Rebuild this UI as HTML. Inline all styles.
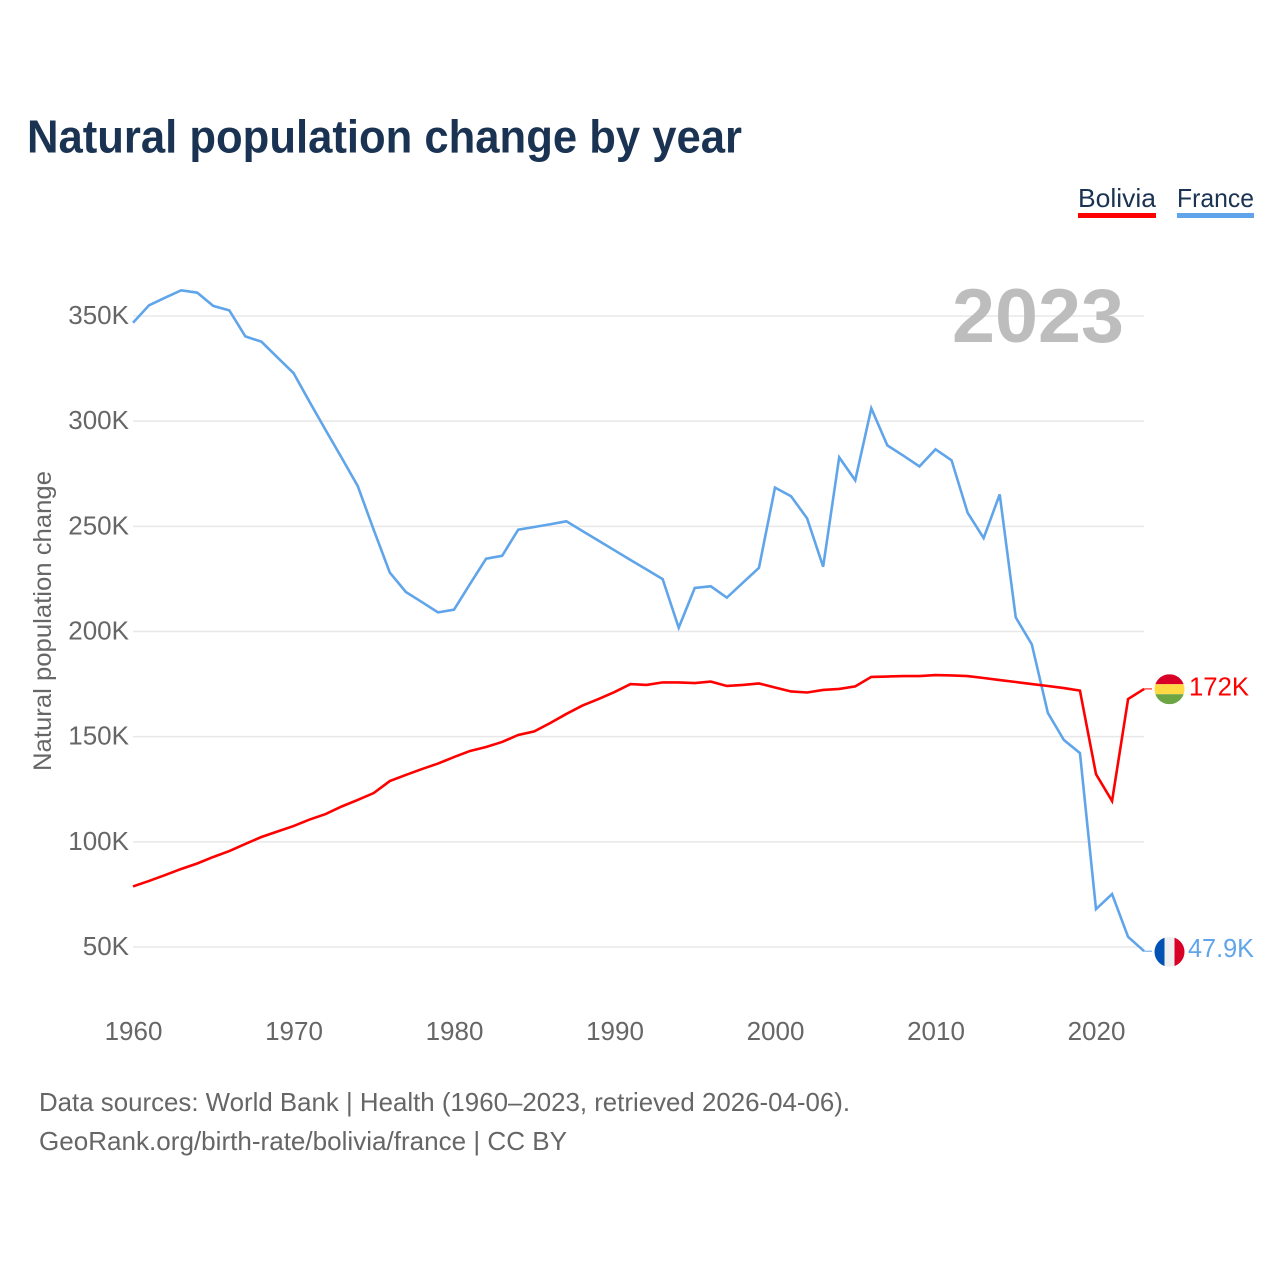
<!DOCTYPE html>
<html lang="en">
<head>
<meta charset="utf-8">
<title>Natural population change by year</title>
<style>
html,body{margin:0;padding:0;background:#fff;width:1280px;height:1280px;overflow:hidden}
svg{display:block;font-family:"Liberation Sans",sans-serif}
</style>
</head>
<body>
<svg id="chart" width="1280" height="1280" viewBox="0 0 1280 1280" xmlns="http://www.w3.org/2000/svg">
  <rect width="1280" height="1280" fill="#fff"/>
  <text x="27" y="152.5" font-size="46" font-weight="700" fill="#1a3352" textLength="715" lengthAdjust="spacingAndGlyphs">Natural population change by year</text>

  <g>
    <g>
      <text x="1078" y="207" font-size="26" fill="#1a3352" textLength="78" lengthAdjust="spacingAndGlyphs">Bolivia</text>
      <rect x="1078" y="213" width="78" height="5" fill="#ff0000"/>
    </g>
    <g>
      <text x="1177" y="207" font-size="26" fill="#1a3352" textLength="77" lengthAdjust="spacingAndGlyphs">France</text>
      <rect x="1177" y="213" width="77" height="5" fill="#60a5ea"/>
    </g>
  </g>

  <text transform="translate(51 621) rotate(-90)" text-anchor="middle" font-size="25" fill="#666" textLength="300" lengthAdjust="spacingAndGlyphs">Natural population change</text>

  <g id="grid"></g>
  <g id="y-labels"></g>
  <g id="x-labels"></g>

  <text x="952" y="342" font-size="76" font-weight="700" fill="#bdbdbd" textLength="172" lengthAdjust="spacingAndGlyphs">2023</text>

  <g id="series"></g>
  <g id="end-markers"></g>

  <g>
    <text x="39" y="1111" font-size="26" fill="#666" textLength="811" lengthAdjust="spacingAndGlyphs">Data sources: World Bank | Health (1960–2023, retrieved 2026-04-06).</text>
    <text x="39" y="1150" font-size="26" fill="#666" textLength="528" lengthAdjust="spacingAndGlyphs">GeoRank.org/birth-rate/bolivia/france | CC BY</text>
  </g>
</svg>

<script>
const startYear = 1960;
const xTickYears = [1960, 1970, 1980, 1990, 2000, 2010, 2020];
const yTickValues = [50, 100, 150, 200, 250, 300, 350];
const yTickLabels = ["50K", "100K", "150K", "200K", "250K", "300K", "350K"];

const boliviaValues = [78.8, 81.4, 84.2, 87.1, 89.7, 92.8, 95.6, 99, 102.3, 104.9,
  107.5, 110.6, 113.2, 116.8, 119.9, 123.2, 128.9, 131.8, 134.6, 137.2,
  140.3, 143.2, 145.1, 147.5, 150.8, 152.5, 156.5, 160.8, 164.8, 167.9,
  171.2, 175, 174.6, 175.8, 175.8, 175.5, 176.2, 174.1, 174.6, 175.3,
  173.4, 171.5, 171, 172.2, 172.7, 173.9, 178.4, 178.6, 178.8, 178.8,
  179.3, 179.1, 178.8, 177.9, 176.9, 176, 175, 174.1, 173.1, 171.9,
  132.2, 119.4, 167.9, 172.7];

const franceValues = [346.8, 355.1, 358.7, 362.2, 361.1, 354.8, 352.7, 340.3, 337.8, 330.3,
  322.9, 309.2, 295.8, 282.6, 269.2, 248.3, 228, 218.8, 214, 209.1,
  210.4, 222.6, 234.6, 236, 248.4, 249.7, 251, 252.4, 247.8, 243.2,
  238.6, 234, 229.5, 224.9, 201.8, 220.7, 221.5, 216.1, 223.2, 230.3,
  268.4, 264.3, 253.8, 230.8, 282.8, 271.9, 306.1, 288.5, 283.6, 278.5,
  286.6, 281.4, 256.5, 244.4, 265.2, 206.7, 193.9, 161.3, 148.4, 142.2,
  68, 75.2, 54.8, 48];

const boliviaEndLabel = "172K";
const franceEndLabel = "47.9K";

const NS = "http://www.w3.org/2000/svg";
function xScale(year) { return 133 + (year - 1960) * 16.05; }
function yScale(value) { return 947 - (value - 50) * 2.1033; }
function make(tag, attrs, parent) {
  const el = document.createElementNS(NS, tag);
  for (const k in attrs) el.setAttribute(k, attrs[k]);
  parent.appendChild(el);
  return el;
}

const grid = document.getElementById("grid");
const yLabels = document.getElementById("y-labels");
const xLabels = document.getElementById("x-labels");
const series = document.getElementById("series");
const markers = document.getElementById("end-markers");

yTickValues.forEach(function (v, i) {
  const y = yScale(v);
  const line = make("line", {x1: 133, x2: 1144, y1: y, y2: y, stroke: "#e8e8e8", "stroke-width": 1.5}, grid);
  
  
  const t = make("text", {x: 129, y: y + 8, "text-anchor": "end", "font-size": 26, fill: "#666"}, yLabels);
  
  
  t.textContent = yTickLabels[i];
});

xTickYears.forEach(function (yr) {
  const t = make("text", {x: xScale(yr) + 0.5, y: 1040, "text-anchor": "middle", "font-size": 26, fill: "#666"}, xLabels);
  
  
  t.textContent = String(yr);
});

function pathFrom(values) {
  return values.map(function (v, i) {
    return (i ? "L" : "M") + xScale(startYear + i).toFixed(2) + " " + yScale(v).toFixed(2);
  }).join("");
}

const francePath = make("path", {d: pathFrom(franceValues), fill: "none", stroke: "#60a5ea", "stroke-width": 2.6, "stroke-linejoin": "miter"}, series);



const boliviaPath = make("path", {d: pathFrom(boliviaValues), fill: "none", stroke: "#ff0000", "stroke-width": 2.6, "stroke-linejoin": "miter"}, series);



const defs = make("defs", {}, markers);
function clipFor(id, cx, cy) {
  const c = make("clipPath", {id: id}, defs);
  make("circle", {cx: cx, cy: cy, r: 15}, c);
}

const lastYear = startYear + boliviaValues.length - 1;
const endX = xScale(lastYear);
const flagX = 1169.5;

/* Bolivia end marker */
const by = yScale(boliviaValues[boliviaValues.length - 1]);
const bStub = make("line", {x1: endX, x2: 1152, y1: by, y2: by, stroke: "#ff0000", "stroke-width": 1}, markers);


clipFor("clip-bo", flagX, by + 0.3);
const bFlag = make("g", {"clip-path": "url(#clip-bo)"}, markers);


make("rect", {x: flagX - 15, y: by - 14.7, width: 30, height: 10, fill: "#d80027"}, bFlag);
make("rect", {x: flagX - 15, y: by - 4.7, width: 30, height: 10, fill: "#ffda44"}, bFlag);
make("rect", {x: flagX - 15, y: by + 5.3, width: 30, height: 10, fill: "#6da544"}, bFlag);
const bLabel = make("text", {x: 1189, y: by + 6.5, "font-size": 26, fill: "#ff0000", textLength: 60, lengthAdjust: "spacingAndGlyphs"}, markers);


bLabel.textContent = boliviaEndLabel;

/* France end marker */
const fy = yScale(franceValues[franceValues.length - 1]);
const fStub = make("line", {x1: endX, x2: 1152, y1: fy, y2: fy, stroke: "#60a5ea", "stroke-width": 1}, markers);


clipFor("clip-fr", flagX, fy + 0.7);
const fFlag = make("g", {"clip-path": "url(#clip-fr)"}, markers);


make("rect", {x: flagX - 15, y: fy - 14.3, width: 10, height: 30, fill: "#0052b4"}, fFlag);
make("rect", {x: flagX - 5, y: fy - 14.3, width: 10, height: 30, fill: "#f0f0f0"}, fFlag);
make("rect", {x: flagX + 5, y: fy - 14.3, width: 10, height: 30, fill: "#d80027"}, fFlag);
const fLabel = make("text", {x: 1188, y: fy + 6, "font-size": 26, fill: "#60a5ea", textLength: 66, lengthAdjust: "spacingAndGlyphs"}, markers);


fLabel.textContent = franceEndLabel;
</script>
</body>
</html>
